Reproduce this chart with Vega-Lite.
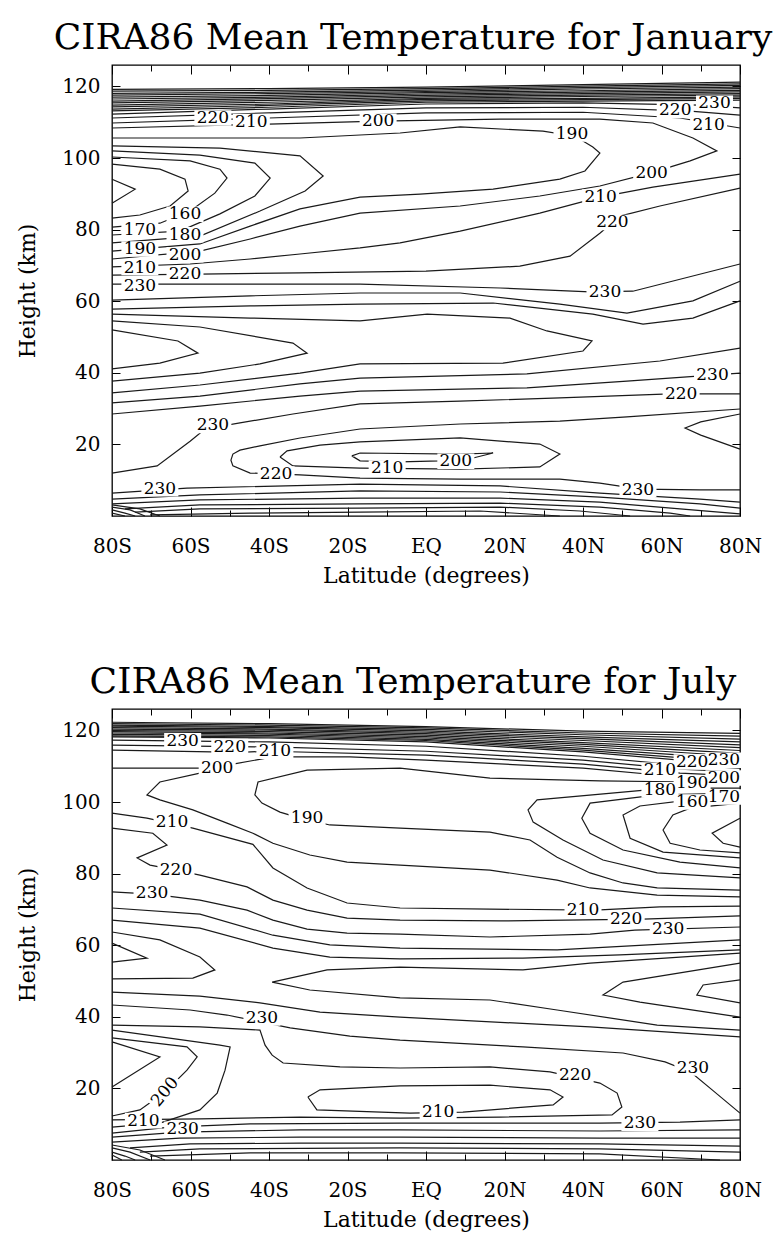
{
"$schema": "https://vega.github.io/schema/vega-lite/v6.json",
"background": "white",
"padding": {"left": 16, "top": 18, "right": 5, "bottom": 5},
"spacing": 75,
"config": {
  "font": "DejaVu Serif",
  "view": {"stroke": "black", "strokeWidth": 1.3},
  "axis": {"labelFont": "DejaVu Serif", "labelFontSize": 20, "labelColor": "black", "titleFont": "DejaVu Serif", "titleFontSize": 22, "titleFontWeight": "normal", "titleColor": "black", "tickColor": "black", "tickWidth": 1, "domain": false, "grid": false},
  "title": {"font": "DejaVu Serif", "fontSize": 36, "fontWeight": "normal", "color": "black", "anchor": "middle", "offset": 8, "dx": -13}
},
"datasets": {
"jan": [
{"c":"t0","lat":-80,"h":113.2},{"c":"t0","lat":-40,"h":114.2},{"c":"t0","lat":0,"h":115.6},{"c":"t0","lat":40,"h":115.9},{"c":"t0","lat":80,"h":116.2},
{"c":"t1","lat":-80,"h":113.7},{"c":"t1","lat":-40,"h":114.7},{"c":"t1","lat":0,"h":116.0},{"c":"t1","lat":40,"h":116.3},{"c":"t1","lat":80,"h":116.7},
{"c":"t2","lat":-80,"h":114.3},{"c":"t2","lat":-40,"h":115.1},{"c":"t2","lat":0,"h":116.4},{"c":"t2","lat":40,"h":116.7},{"c":"t2","lat":80,"h":117.1},
{"c":"t3","lat":-80,"h":114.8},{"c":"t3","lat":-40,"h":115.6},{"c":"t3","lat":0,"h":116.7},{"c":"t3","lat":40,"h":117.2},{"c":"t3","lat":80,"h":117.6},
{"c":"t4","lat":-80,"h":115.4},{"c":"t4","lat":-40,"h":116.1},{"c":"t4","lat":0,"h":117.1},{"c":"t4","lat":40,"h":117.6},{"c":"t4","lat":80,"h":118.0},
{"c":"t5","lat":-80,"h":115.9},{"c":"t5","lat":-40,"h":116.6},{"c":"t5","lat":0,"h":117.5},{"c":"t5","lat":40,"h":118.0},{"c":"t5","lat":80,"h":118.5},
{"c":"t6","lat":-80,"h":116.5},{"c":"t6","lat":-40,"h":117.0},{"c":"t6","lat":0,"h":117.9},{"c":"t6","lat":40,"h":118.4},{"c":"t6","lat":80,"h":118.9},
{"c":"t7","lat":-80,"h":117.0},{"c":"t7","lat":-40,"h":117.5},{"c":"t7","lat":0,"h":118.3},{"c":"t7","lat":40,"h":118.8},{"c":"t7","lat":80,"h":119.4},
{"c":"t8","lat":-80,"h":117.6},{"c":"t8","lat":-40,"h":118.0},{"c":"t8","lat":0,"h":118.6},{"c":"t8","lat":40,"h":119.3},{"c":"t8","lat":80,"h":119.8},
{"c":"t9","lat":-80,"h":118.1},{"c":"t9","lat":-40,"h":118.4},{"c":"t9","lat":0,"h":119.0},{"c":"t9","lat":40,"h":119.7},{"c":"t9","lat":80,"h":120.3},
{"c":"t10","lat":-80,"h":118.7},{"c":"t10","lat":-40,"h":118.9},{"c":"t10","lat":0,"h":119.4},{"c":"t10","lat":40,"h":120.1},{"c":"t10","lat":80,"h":120.7},
{"c":"t11","lat":-80,"h":119.2},{"c":"t11","lat":-40,"h":119.4},{"c":"t11","lat":0,"h":119.8},{"c":"t11","lat":40,"h":120.5},{"c":"t11","lat":80,"h":121.2},
{"c":"a230","lat":-80,"h":112.3},{"c":"a230","lat":-40,"h":113.7},{"c":"a230","lat":0,"h":115.1},{"c":"a230","lat":40,"h":115.4},{"c":"a230","lat":69.8,"h":114.8},{"c":"a230","lat":80,"h":114.0},
{"c":"a220","lat":-80,"h":111.2},{"c":"a220","lat":-40,"h":112.6},{"c":"a220","lat":0,"h":114.0},{"c":"a220","lat":40,"h":114.2},{"c":"a220","lat":67.3,"h":113.1},{"c":"a220","lat":80,"h":112.0},
{"c":"a210","lat":-80,"h":109.8},{"c":"a210","lat":-40,"h":111.2},{"c":"a210","lat":0,"h":112.6},{"c":"a210","lat":40,"h":112.8},{"c":"a210","lat":64.7,"h":111.2},{"c":"a210","lat":80,"h":108.4},
{"c":"a200","lat":-80,"h":108.4},{"c":"a200","lat":-40,"h":109.5},{"c":"a200","lat":-12.2,"h":110.3},{"c":"a200","lat":18.9,"h":110.9},{"c":"a200","lat":44.3,"h":110.9},{"c":"a200","lat":57.8,"h":109.8},{"c":"a200","lat":68.0,"h":105.6},{"c":"a200","lat":74.1,"h":102.0},{"c":"a200","lat":67.3,"h":99.2},{"c":"a200","lat":57.1,"h":95.8},{"c":"a200","lat":44.3,"h":92.2},{"c":"a200","lat":29.0,"h":89.4},{"c":"a200","lat":8.7,"h":86.6},{"c":"a200","lat":-16.8,"h":84.6},{"c":"a200","lat":-32.1,"h":81.0},{"c":"a200","lat":-44.8,"h":77.4},{"c":"a200","lat":-57.6,"h":74.0},{"c":"a200","lat":-80,"h":71.8},
{"c":"a190","lat":-80,"h":105.6},{"c":"a190","lat":-32.1,"h":105.6},{"c":"a190","lat":-6.6,"h":107.0},{"c":"a190","lat":8.7,"h":108.7},{"c":"a190","lat":29.8,"h":107.5},{"c":"a190","lat":38.0,"h":106.1},{"c":"a190","lat":42.5,"h":103.1},{"c":"a190","lat":44.3,"h":101.4},{"c":"a190","lat":40.5,"h":96.4},{"c":"a190","lat":34.1,"h":94.1},{"c":"a190","lat":17.1,"h":91.3},{"c":"a190","lat":-1.5,"h":89.9},{"c":"a190","lat":-16.8,"h":89.1},{"c":"a190","lat":-32.1,"h":85.8},{"c":"a190","lat":-44.8,"h":81.0},{"c":"a190","lat":-57.6,"h":76.0},{"c":"a190","lat":-80,"h":74.0},
{"c":"a180","lat":-80,"h":103.4},{"c":"a180","lat":-52.5,"h":102.8},{"c":"a180","lat":-32.1,"h":100.6},{"c":"a180","lat":-26.2,"h":95.0},{"c":"a180","lat":-30.8,"h":90.8},{"c":"a180","lat":-42.3,"h":85.2},{"c":"a180","lat":-57.6,"h":78.2},{"c":"a180","lat":-80,"h":76.3},
{"c":"a170","lat":-80,"h":102.0},{"c":"a170","lat":-57.6,"h":100.8},{"c":"a170","lat":-43.6,"h":98.6},{"c":"a170","lat":-39.7,"h":94.4},{"c":"a170","lat":-43.6,"h":89.4},{"c":"a170","lat":-52.5,"h":84.4},{"c":"a170","lat":-62.7,"h":79.6},{"c":"a170","lat":-80,"h":78.5},
{"c":"a160","lat":-80,"h":100.3},{"c":"a160","lat":-60.1,"h":99.2},{"c":"a160","lat":-52.5,"h":96.9},{"c":"a160","lat":-50.7,"h":94.4},{"c":"a160","lat":-53.8,"h":90.2},{"c":"a160","lat":-60.1,"h":85.2},{"c":"a160","lat":-67.8,"h":81.8},{"c":"a160","lat":-80,"h":80.7},
{"c":"a150","lat":-80,"h":98.3},{"c":"a150","lat":-67.8,"h":96.9},{"c":"a150","lat":-61.4,"h":94.1},{"c":"a150","lat":-60.6,"h":90.8},{"c":"a150","lat":-65.2,"h":86.6},{"c":"a150","lat":-72.9,"h":84.1},{"c":"a150","lat":-80,"h":83.2},
{"c":"a140","lat":-80,"h":94.1},{"c":"a140","lat":-74.1,"h":91.3},{"c":"a140","lat":-80,"h":87.4},
{"c":"b210","lat":80,"h":95.5},{"c":"b210","lat":57.8,"h":91.9},{"c":"b210","lat":44.3,"h":89.1},{"c":"b210","lat":29.0,"h":84.6},{"c":"b210","lat":8.7,"h":79.6},{"c":"b210","lat":-6.6,"h":76.3},{"c":"b210","lat":-16.8,"h":74.9},{"c":"b210","lat":-32.1,"h":73.2},{"c":"b210","lat":-44.8,"h":71.8},{"c":"b210","lat":-60.1,"h":70.4},{"c":"b210","lat":-80,"h":69.6},
{"c":"b220","lat":80,"h":91.6},{"c":"b220","lat":59.6,"h":86.6},{"c":"b220","lat":49.4,"h":83.8},{"c":"b220","lat":44.3,"h":79.0},{"c":"b220","lat":36.7,"h":72.6},{"c":"b220","lat":23.9,"h":69.8},{"c":"b220","lat":0,"h":68.4},{"c":"b220","lat":-32.1,"h":67.9},{"c":"b220","lat":-57.6,"h":67.6},{"c":"b220","lat":-80,"h":67.3},
{"c":"b230","lat":-80,"h":64.8},{"c":"b230","lat":-16.8,"h":64.8},{"c":"b230","lat":18.9,"h":63.7},{"c":"b230","lat":41.8,"h":62.6},{"c":"b230","lat":52.7,"h":62.8},{"c":"b230","lat":80,"h":70.4},
{"c":"b240","lat":-80,"h":60.3},{"c":"b240","lat":-44.8,"h":61.5},{"c":"b240","lat":-16.8,"h":62.3},{"c":"b240","lat":8.7,"h":62.3},{"c":"b240","lat":34.1,"h":59.2},{"c":"b240","lat":51.2,"h":56.7},{"c":"b240","lat":68.0,"h":60.1},{"c":"b240","lat":80,"h":65.6},
{"c":"b250","lat":-80,"h":57.8},{"c":"b250","lat":-44.8,"h":58.7},{"c":"b250","lat":-16.8,"h":59.2},{"c":"b250","lat":17.1,"h":59.5},{"c":"b250","lat":42.5,"h":56.4},{"c":"b250","lat":55.3,"h":53.6},{"c":"b250","lat":68.0,"h":55.3},{"c":"b250","lat":80,"h":60.1},
{"c":"s3","lat":-80,"h":56.4},{"c":"s3","lat":-44.8,"h":55.3},{"c":"s3","lat":-16.8,"h":54.5},{"c":"s3","lat":0.3,"h":56.4},{"c":"s3","lat":21.4,"h":55.3},{"c":"s3","lat":30.8,"h":51.7},{"c":"s3","lat":42.3,"h":48.9},{"c":"s3","lat":40.0,"h":46.1},{"c":"s3","lat":19.6,"h":42.7},{"c":"s3","lat":-16.8,"h":42.5},{"c":"s3","lat":-32.1,"h":39.9},{"c":"s3","lat":-57.6,"h":36.6},{"c":"s3","lat":-80,"h":34.4},
{"c":"s2","lat":-80,"h":54.5},{"c":"s2","lat":-57.6,"h":52.8},{"c":"s2","lat":-33.9,"h":48.3},{"c":"s2","lat":-30.3,"h":45.5},{"c":"s2","lat":-42.3,"h":42.5},{"c":"s2","lat":-57.6,"h":39.9},{"c":"s2","lat":-80,"h":37.7},
{"c":"s1","lat":-80,"h":52.0},{"c":"s1","lat":-63.2,"h":48.9},{"c":"s1","lat":-58.1,"h":45.5},{"c":"s1","lat":-67.8,"h":42.7},{"c":"s1","lat":-80,"h":41.1},
{"c":"c250","lat":-80,"h":31.6},{"c":"c250","lat":-57.6,"h":33.5},{"c":"c250","lat":-32.1,"h":36.9},{"c":"c250","lat":-16.8,"h":38.5},{"c":"c250","lat":25.7,"h":39.7},{"c":"c250","lat":59.6,"h":43.3},{"c":"c250","lat":80,"h":46.9},
{"c":"c240","lat":-80,"h":28.5},{"c":"c240","lat":-57.6,"h":30.7},{"c":"c240","lat":-32.1,"h":33.5},{"c":"c240","lat":-16.8,"h":34.9},{"c":"c240","lat":25.7,"h":35.8},{"c":"c240","lat":51.2,"h":37.7},{"c":"c240","lat":80,"h":39.9},
{"c":"c230","lat":-80,"h":12.0},{"c":"c230","lat":-68.5,"h":14.0},{"c":"c230","lat":-60.1,"h":20.9},{"c":"c230","lat":-56.3,"h":24.3},{"c":"c230","lat":-47.4,"h":26.0},{"c":"c230","lat":-33.9,"h":28.5},{"c":"c230","lat":-16.8,"h":31.3},{"c":"c230","lat":8.7,"h":32.1},{"c":"c230","lat":34.1,"h":33.0},{"c":"c230","lat":62.2,"h":34.1},{"c":"c230","lat":80,"h":34.1},
{"c":"c220","lat":80,"h":29.9},{"c":"c220","lat":51.2,"h":27.7},{"c":"c220","lat":34.1,"h":26.5},{"c":"c220","lat":8.7,"h":25.7},{"c":"c220","lat":-16.8,"h":24.3},{"c":"c220","lat":-32.1,"h":21.8},{"c":"c220","lat":-42.3,"h":19.6},{"c":"c220","lat":-47.4,"h":18.4},{"c":"c220","lat":-49.2,"h":17.3},{"c":"c220","lat":-49.7,"h":15.6},{"c":"c220","lat":-49.2,"h":14.0},{"c":"c220","lat":-44.8,"h":12.0},{"c":"c220","lat":-32.1,"h":11.5},{"c":"c220","lat":-16.8,"h":10.6},{"c":"c220","lat":8.7,"h":10.3},{"c":"c220","lat":34.1,"h":10.3},{"c":"c220","lat":44.3,"h":9.2},{"c":"c220","lat":54.5,"h":7.5},{"c":"c220","lat":69.8,"h":7.3},{"c":"c220","lat":80,"h":7.3},
{"c":"e210","lat":-37.2,"h":16.5},{"c":"e210","lat":-35.4,"h":18.2},{"c":"e210","lat":-27.0,"h":19.8},{"c":"e210","lat":-16.8,"h":20.7},{"c":"e210","lat":8.7,"h":21.8},{"c":"e210","lat":29.0,"h":20.1},{"c":"e210","lat":34.1,"h":17.3},{"c":"e210","lat":29.0,"h":13.7},{"c":"e210","lat":8.7,"h":13.1},{"c":"e210","lat":-16.8,"h":13.4},{"c":"e210","lat":-33.9,"h":14.0},{"c":"e210","lat":-37.2,"h":16.5},
{"c":"e200","lat":-18.9,"h":16.8},{"c":"e200","lat":-16.8,"h":17.6},{"c":"e200","lat":8.7,"h":17.3},{"c":"e200","lat":17.1,"h":17.6},{"c":"e200","lat":12.0,"h":16.2},{"c":"e200","lat":3.6,"h":15.4},{"c":"e200","lat":-6.6,"h":15.1},{"c":"e200","lat":-16.8,"h":15.4},{"c":"e200","lat":-18.9,"h":16.8},
{"c":"r210","lat":80,"h":28.5},{"c":"r210","lat":70,"h":26.3},{"c":"r210","lat":66.0,"h":24.6},{"c":"r210","lat":70,"h":22.6},{"c":"r210","lat":80,"h":18.7},
{"c":"g230","lat":-80,"h":6.4},{"c":"g230","lat":-60.9,"h":7.8},{"c":"g230","lat":-16.8,"h":8.9},{"c":"g230","lat":18.9,"h":8.4},{"c":"g230","lat":44.3,"h":6.4},{"c":"g230","lat":69.8,"h":4.7},{"c":"g230","lat":80,"h":3.9},
{"c":"g240","lat":-80,"h":4.7},{"c":"g240","lat":-57.6,"h":5.9},{"c":"g240","lat":-16.8,"h":7.0},{"c":"g240","lat":18.9,"h":6.7},{"c":"g240","lat":44.3,"h":5.3},{"c":"g240","lat":69.8,"h":3.4},{"c":"g240","lat":80,"h":2.2},
{"c":"g250","lat":-80,"h":3.4},{"c":"g250","lat":-57.6,"h":4.5},{"c":"g250","lat":-16.8,"h":5.0},{"c":"g250","lat":18.9,"h":5.0},{"c":"g250","lat":44.3,"h":3.9},{"c":"g250","lat":64.7,"h":2.0},{"c":"g250","lat":80,"h":0.6},
{"c":"g260","lat":-76.7,"h":2.0},{"c":"g260","lat":-57.6,"h":3.1},{"c":"g260","lat":-16.8,"h":3.4},{"c":"g260","lat":18.9,"h":3.6},{"c":"g260","lat":44.3,"h":2.5},{"c":"g260","lat":62.2,"h":0.8},{"c":"g260","lat":67.3,"h":0},
{"c":"g270","lat":-74.1,"h":1.1},{"c":"g270","lat":-57.6,"h":2.0},{"c":"g270","lat":-16.8,"h":2.2},{"c":"g270","lat":18.9,"h":2.5},{"c":"g270","lat":39.2,"h":1.4},{"c":"g270","lat":52.0,"h":0},
{"c":"g280","lat":-70.3,"h":0.3},{"c":"g280","lat":-44.8,"h":0.8},{"c":"g280","lat":-16.8,"h":1.1},{"c":"g280","lat":13.8,"h":1.4},{"c":"g280","lat":34.1,"h":0},
{"c":"k1","lat":-80,"h":2.5},{"c":"k1","lat":-75.4,"h":1.7},{"c":"k1","lat":-71.6,"h":0},
{"c":"k2","lat":-80,"h":1.7},{"c":"k2","lat":-76.7,"h":0.8},{"c":"k2","lat":-74.1,"h":0},
{"c":"k3","lat":-80,"h":0.8},{"c":"k3","lat":-76.7,"h":0},
{"c":"k4","lat":-80,"h":3.1},{"c":"k4","lat":-72.9,"h":2.0},{"c":"k4","lat":-67.8,"h":0}
],
"janLab": [
{"lat":-54.3,"h":111.2,"t":"220"},{"lat":-44.5,"h":110.2,"t":"210"},{"lat":-12.2,"h":110.3,"t":"200"},{"lat":37.2,"h":106.7,"t":"190"},
{"lat":73.5,"h":115.3,"t":"230"},{"lat":63.5,"h":113.3,"t":"220"},{"lat":72.0,"h":109.3,"t":"210"},
{"lat":57.5,"h":95.9,"t":"200"},{"lat":44.5,"h":89.1,"t":"210"},{"lat":47.5,"h":82.0,"t":"220"},
{"lat":-61.4,"h":84.3,"t":"160"},{"lat":-72.9,"h":80.0,"t":"170"},{"lat":-61.4,"h":78.6,"t":"180"},{"lat":-72.9,"h":74.6,"t":"190"},{"lat":-61.4,"h":73.0,"t":"200"},{"lat":-72.9,"h":69.4,"t":"210"},{"lat":-61.4,"h":67.6,"t":"220"},{"lat":-72.9,"h":64.2,"t":"230"},
{"lat":45.6,"h":62.5,"t":"230"},{"lat":-54.3,"h":25.3,"t":"230"},{"lat":73,"h":39.3,"t":"230"},{"lat":65,"h":34.1,"t":"220"},
{"lat":-38.2,"h":11.7,"t":"220"},{"lat":-9.9,"h":13.4,"t":"210"},{"lat":7.6,"h":15.3,"t":"200"},{"lat":-67.8,"h":7.6,"t":"230"},{"lat":54.0,"h":7.4,"t":"230"}
],
"jul": [
{"c":"t0","lat":-80,"h":118.2},{"c":"t0","lat":-40,"h":117.9},{"c":"t0","lat":0,"h":116.8},{"c":"t0","lat":40,"h":114.0},{"c":"t0","lat":80,"h":110.3},
{"c":"t1","lat":-80,"h":118.5},{"c":"t1","lat":-40,"h":118.2},{"c":"t1","lat":0,"h":117.2},{"c":"t1","lat":40,"h":114.5},{"c":"t1","lat":80,"h":111.1},
{"c":"t2","lat":-80,"h":118.9},{"c":"t2","lat":-40,"h":118.6},{"c":"t2","lat":0,"h":117.5},{"c":"t2","lat":40,"h":115.0},{"c":"t2","lat":80,"h":112.0},
{"c":"t3","lat":-80,"h":119.3},{"c":"t3","lat":-40,"h":119.0},{"c":"t3","lat":0,"h":117.9},{"c":"t3","lat":40,"h":115.6},{"c":"t3","lat":80,"h":112.8},
{"c":"t4","lat":-80,"h":119.7},{"c":"t4","lat":-40,"h":119.3},{"c":"t4","lat":0,"h":118.3},{"c":"t4","lat":40,"h":116.1},{"c":"t4","lat":80,"h":113.6},
{"c":"t5","lat":-80,"h":120.0},{"c":"t5","lat":-40,"h":119.7},{"c":"t5","lat":0,"h":118.7},{"c":"t5","lat":40,"h":116.6},{"c":"t5","lat":80,"h":114.4},
{"c":"t6","lat":-80,"h":120.4},{"c":"t6","lat":-40,"h":120.1},{"c":"t6","lat":0,"h":119.1},{"c":"t6","lat":40,"h":117.2},{"c":"t6","lat":80,"h":115.2},
{"c":"t7","lat":-80,"h":120.8},{"c":"t7","lat":-40,"h":120.4},{"c":"t7","lat":0,"h":119.5},{"c":"t7","lat":40,"h":117.7},{"c":"t7","lat":80,"h":116.0},
{"c":"t8","lat":-80,"h":121.2},{"c":"t8","lat":-40,"h":120.8},{"c":"t8","lat":0,"h":119.9},{"c":"t8","lat":40,"h":118.2},{"c":"t8","lat":80,"h":116.8},
{"c":"t9","lat":-80,"h":121.5},{"c":"t9","lat":-40,"h":121.1},{"c":"t9","lat":0,"h":120.3},{"c":"t9","lat":40,"h":118.8},{"c":"t9","lat":80,"h":117.6},
{"c":"t10","lat":-80,"h":121.9},{"c":"t10","lat":-40,"h":121.5},{"c":"t10","lat":0,"h":120.7},{"c":"t10","lat":40,"h":119.3},{"c":"t10","lat":80,"h":118.4},
{"c":"t11","lat":-80,"h":122.3},{"c":"t11","lat":-40,"h":121.9},{"c":"t11","lat":0,"h":121.1},{"c":"t11","lat":40,"h":119.8},{"c":"t11","lat":80,"h":119.2},
{"c":"k230","lat":-80,"h":117.3},{"c":"k230","lat":-40,"h":116.8},{"c":"k230","lat":0,"h":115.6},{"c":"k230","lat":40,"h":112.8},{"c":"k230","lat":64.7,"h":110.3},{"c":"k230","lat":80,"h":109.5},
{"c":"k220","lat":-80,"h":115.9},{"c":"k220","lat":-40,"h":115.4},{"c":"k220","lat":0,"h":114.2},{"c":"k220","lat":40,"h":111.7},{"c":"k220","lat":64.7,"h":109.2},{"c":"k220","lat":80,"h":108.4},
{"c":"k210","lat":-80,"h":114.5},{"c":"k210","lat":-47.4,"h":113.9},{"c":"k210","lat":-40,"h":114.2},{"c":"k210","lat":0,"h":113.1},{"c":"k210","lat":40,"h":110.6},{"c":"k210","lat":64.7,"h":108.1},{"c":"k210","lat":80,"h":107.3},
{"c":"k200","lat":-80,"h":109.5},{"c":"k200","lat":-57.6,"h":109.5},{"c":"k200","lat":-49.2,"h":110.6},{"c":"k200","lat":-39.0,"h":112.6},{"c":"k200","lat":-19.4,"h":112.6},{"c":"k200","lat":0,"h":111.7},{"c":"k200","lat":40,"h":109.5},{"c":"k200","lat":64.7,"h":107.0},{"c":"k200","lat":80,"h":106.1},
{"c":"k190","lat":80,"h":105.0},{"c":"k190","lat":67.3,"h":105.6},{"c":"k190","lat":44.3,"h":105.9},{"c":"k190","lat":16.3,"h":106.7},{"c":"k190","lat":-6.6,"h":109.5},{"c":"k190","lat":-30.3,"h":108.9},{"c":"k190","lat":-42.8,"h":105.6},{"c":"k190","lat":-43.6,"h":102.0},{"c":"k190","lat":-41.8,"h":99.7},{"c":"k190","lat":-37.2,"h":97.2},{"c":"k190","lat":-32.1,"h":95.5},{"c":"k190","lat":-24.5,"h":93.6},{"c":"k190","lat":-6.6,"h":92.7},{"c":"k190","lat":16.3,"h":91.6},{"c":"k190","lat":26.5,"h":89.4},{"c":"k190","lat":33.4,"h":84.6},{"c":"k190","lat":41.8,"h":80.2},{"c":"k190","lat":50.2,"h":77.4},{"c":"k190","lat":58.9,"h":76.0},{"c":"k190","lat":80,"h":75.4},
{"c":"n5","lat":80,"h":103.9},{"c":"n5","lat":61.4,"h":103.9},{"c":"n5","lat":28.3,"h":100.6},{"c":"n5","lat":26.0,"h":97.8},{"c":"n5","lat":27.3,"h":94.4},{"c":"n5","lat":34.9,"h":89.4},{"c":"n5","lat":45.1,"h":83.8},{"c":"n5","lat":58.9,"h":80.2},{"c":"n5","lat":80,"h":78.8},
{"c":"n4","lat":80,"h":102.5},{"c":"n4","lat":58.9,"h":102.0},{"c":"n4","lat":41.8,"h":99.7},{"c":"n4","lat":39.7,"h":95.5},{"c":"n4","lat":41.8,"h":91.3},{"c":"n4","lat":50.2,"h":86.6},{"c":"n4","lat":64.7,"h":83.2},{"c":"n4","lat":80,"h":81.6},
{"c":"n3","lat":80,"h":101.4},{"c":"n3","lat":67.3,"h":100.6},{"c":"n3","lat":54.5,"h":98.9},{"c":"n3","lat":50.2,"h":96.4},{"c":"n3","lat":52.0,"h":89.9},{"c":"n3","lat":60.4,"h":86.0},{"c":"n3","lat":80,"h":84.4},
{"c":"n2","lat":80,"h":99.7},{"c":"n2","lat":67.3,"h":98.3},{"c":"n2","lat":62.9,"h":96.4},{"c":"n2","lat":60.4,"h":92.2},{"c":"n2","lat":62.2,"h":88.5},{"c":"n2","lat":69.8,"h":86.6},{"c":"n2","lat":80,"h":85.8},
{"c":"n1","lat":80,"h":95.5},{"c":"n1","lat":72.9,"h":91.3},{"c":"n1","lat":75.7,"h":88.5},{"c":"n1","lat":80,"h":87.4},
{"c":"a200","lat":-49.9,"h":110.1},{"c":"a200","lat":-57.6,"h":108.1},{"c":"a200","lat":-67.8,"h":105.6},{"c":"a200","lat":-71.1,"h":102.0},{"c":"a200","lat":-67.8,"h":100.6},{"c":"a200","lat":-59.4,"h":97.8},{"c":"a200","lat":-50.7,"h":94.1},{"c":"a200","lat":-44.1,"h":91.3},{"c":"a200","lat":-39.0,"h":88.5},{"c":"a200","lat":-29.6,"h":85.2},{"c":"a200","lat":-20.1,"h":83.2},{"c":"a200","lat":-6.6,"h":82.4},{"c":"a200","lat":16.3,"h":81.0},{"c":"a200","lat":33.4,"h":78.2},{"c":"a200","lat":41.8,"h":76.0},{"c":"a200","lat":58.9,"h":74.0},{"c":"a200","lat":80,"h":73.5},
{"c":"b210","lat":-80,"h":96.9},{"c":"b210","lat":-71.1,"h":95.5},{"c":"b210","lat":-59.4,"h":92.7},{"c":"b210","lat":-44.1,"h":88.2},{"c":"b210","lat":-39.0,"h":81.6},{"c":"b210","lat":-30.3,"h":76.0},{"c":"b210","lat":-20.1,"h":71.8},{"c":"b210","lat":-6.6,"h":70.4},{"c":"b210","lat":16.3,"h":70.1},{"c":"b210","lat":43.1,"h":69.8},{"c":"b210","lat":59.6,"h":70.7},{"c":"b210","lat":80,"h":70.9},
{"c":"b220","lat":-80,"h":92.7},{"c":"b220","lat":-69.6,"h":91.3},{"c":"b220","lat":-66.0,"h":88.0},{"c":"b220","lat":-73.6,"h":84.4},{"c":"b220","lat":-70.3,"h":82.4},{"c":"b220","lat":-63.7,"h":81.0},{"c":"b220","lat":-57.6,"h":79.6},{"c":"b220","lat":-45.6,"h":76.3},{"c":"b220","lat":-39.0,"h":72.6},{"c":"b220","lat":-30.3,"h":69.8},{"c":"b220","lat":-20.1,"h":67.6},{"c":"b220","lat":-6.6,"h":67.0},{"c":"b220","lat":18.9,"h":66.8},{"c":"b220","lat":55.3,"h":67.3},{"c":"b220","lat":80,"h":68.2},
{"c":"b230","lat":-80,"h":74.9},{"c":"b230","lat":-69.8,"h":74.3},{"c":"b230","lat":-57.6,"h":72.6},{"c":"b230","lat":-45.6,"h":69.8},{"c":"b230","lat":-39.0,"h":67.0},{"c":"b230","lat":-30.3,"h":64.5},{"c":"b230","lat":-20.1,"h":63.4},{"c":"b230","lat":-6.6,"h":63.1},{"c":"b230","lat":16.3,"h":62.3},{"c":"b230","lat":41.8,"h":63.1},{"c":"b230","lat":53.2,"h":64.2},{"c":"b230","lat":80,"h":65.1},
{"c":"l240","lat":-80,"h":70.4},{"c":"l240","lat":-57.6,"h":68.7},{"c":"l240","lat":-39.0,"h":62.8},{"c":"l240","lat":-24.5,"h":60.1},{"c":"l240","lat":-6.6,"h":59.2},{"c":"l240","lat":33.4,"h":58.7},{"c":"l240","lat":80,"h":61.5},
{"c":"l250","lat":-80,"h":67.0},{"c":"l250","lat":-57.6,"h":64.8},{"c":"l250","lat":-39.0,"h":59.2},{"c":"l250","lat":-24.5,"h":56.7},{"c":"l250","lat":-6.6,"h":56.2},{"c":"l250","lat":24.7,"h":56.4},{"c":"l250","lat":49.4,"h":57.3},{"c":"l250","lat":80,"h":58.7},
{"c":"g1","lat":80,"h":57.8},{"c":"g1","lat":41.8,"h":55.0},{"c":"g1","lat":24.7,"h":53.1},{"c":"g1","lat":-6.6,"h":53.9},{"c":"g1","lat":-25.2,"h":53.1},{"c":"g1","lat":-39.2,"h":49.7},{"c":"g1","lat":-29.6,"h":47.5},{"c":"g1","lat":-6.6,"h":45.3},{"c":"g1","lat":16.3,"h":44.7},{"c":"g1","lat":33.4,"h":41.9},{"c":"g1","lat":58.9,"h":37.7},{"c":"g1","lat":80,"h":36.3},
{"c":"r1","lat":80,"h":55.0},{"c":"r1","lat":50.2,"h":49.7},{"c":"r1","lat":45.1,"h":46.1},{"c":"r1","lat":54.5,"h":44.1},{"c":"r1","lat":80,"h":39.9},
{"c":"r2","lat":80,"h":50.3},{"c":"r2","lat":70.6,"h":48.9},{"c":"r2","lat":69.0,"h":46.1},{"c":"r2","lat":80,"h":43.9},
{"c":"w2","lat":-80,"h":63.7},{"c":"w2","lat":-67.8,"h":61.5},{"c":"w2","lat":-57.6,"h":56.7},{"c":"w2","lat":-53.8,"h":53.1},{"c":"w2","lat":-59.4,"h":50.8},{"c":"w2","lat":-80,"h":50.6},
{"c":"w1","lat":-80,"h":60.6},{"c":"w1","lat":-71.1,"h":56.4},{"c":"w1","lat":-80,"h":55.3},
{"c":"m1","lat":-80,"h":46.9},{"c":"m1","lat":-57.6,"h":45.8},{"c":"m1","lat":-42.3,"h":43.9},{"c":"m1","lat":-27.0,"h":41.3},{"c":"m1","lat":-6.6,"h":39.9},{"c":"m1","lat":41.8,"h":37.2},{"c":"m1","lat":80,"h":34.4},
{"c":"m230","lat":-80,"h":43.3},{"c":"m230","lat":-60.1,"h":41.9},{"c":"m230","lat":-50.7,"h":40.5},{"c":"m230","lat":-34.6,"h":36.9},{"c":"m230","lat":-19.4,"h":34.6},{"c":"m230","lat":-6.6,"h":33.5},{"c":"m230","lat":24.7,"h":31.6},{"c":"m230","lat":50.2,"h":29.9},{"c":"m230","lat":60.9,"h":27.4},{"c":"m230","lat":67.5,"h":24.5},{"c":"m230","lat":72.9,"h":19.6},{"c":"m230","lat":80,"h":13.1},
{"c":"m220","lat":-80,"h":37.7},{"c":"m220","lat":-57.6,"h":37.2},{"c":"m220","lat":-42.3,"h":36.3},{"c":"m220","lat":-41.0,"h":32.1},{"c":"m220","lat":-39.2,"h":29.3},{"c":"m220","lat":-36.4,"h":27.1},{"c":"m220","lat":-21.9,"h":26.0},{"c":"m220","lat":-6.6,"h":25.7},{"c":"m220","lat":16.3,"h":26.0},{"c":"m220","lat":31.6,"h":24.6},{"c":"m220","lat":44.3,"h":21.5},{"c":"m220","lat":48.7,"h":18.7},{"c":"m220","lat":49.9,"h":14.8},{"c":"m220","lat":47.4,"h":12.6},{"c":"m220","lat":18.9,"h":12.0},{"c":"m220","lat":-6.6,"h":11.7},{"c":"m220","lat":-32.1,"h":12.0},{"c":"m220","lat":-57.6,"h":11.5},{"c":"m220","lat":-80,"h":11.2},
{"c":"p190","lat":-80,"h":33.0},{"c":"p190","lat":-67.8,"h":28.8},{"c":"p190","lat":-80,"h":20.4},
{"c":"p200","lat":-80,"h":34.1},{"c":"p200","lat":-60.9,"h":31.6},{"c":"p200","lat":-58.3,"h":28.8},{"c":"p200","lat":-60.9,"h":25.1},{"c":"p200","lat":-66.5,"h":19.0},{"c":"p200","lat":-72.9,"h":14.0},{"c":"p200","lat":-80,"h":12.3},
{"c":"p210","lat":-80,"h":36.3},{"c":"p210","lat":-52.5,"h":32.1},{"c":"p210","lat":-49.9,"h":31.6},{"c":"p210","lat":-51.2,"h":25.1},{"c":"p210","lat":-53.2,"h":18.7},{"c":"p210","lat":-57.6,"h":14.0},{"c":"p210","lat":-67.8,"h":10.3},{"c":"p210","lat":-80,"h":9.2},
{"c":"e210","lat":-30.1,"h":17.6},{"c":"e210","lat":-27.0,"h":19.6},{"c":"e210","lat":-6.6,"h":20.7},{"c":"e210","lat":16.3,"h":20.9},{"c":"e210","lat":31.6,"h":19.6},{"c":"e210","lat":34.9,"h":17.6},{"c":"e210","lat":32.4,"h":15.4},{"c":"e210","lat":9.4,"h":13.4},{"c":"e210","lat":-4.1,"h":13.1},{"c":"e210","lat":-27.8,"h":14.0},{"c":"e210","lat":-30.1,"h":17.6},
{"c":"q230","lat":-80,"h":7.5},{"c":"q230","lat":-65.2,"h":9.2},{"c":"q230","lat":-44.8,"h":10.1},{"c":"q230","lat":-6.6,"h":10.3},{"c":"q230","lat":44.3,"h":10.3},{"c":"q230","lat":64.7,"h":10.6},{"c":"q230","lat":80,"h":11.2},
{"c":"q240","lat":-80,"h":6.4},{"c":"q240","lat":-62.7,"h":7.8},{"c":"q240","lat":-32.1,"h":8.4},{"c":"q240","lat":-6.6,"h":8.4},{"c":"q240","lat":44.3,"h":8.1},{"c":"q240","lat":80,"h":8.4},
{"c":"q250","lat":-80,"h":5.0},{"c":"q250","lat":-62.7,"h":6.1},{"c":"q250","lat":-32.1,"h":6.4},{"c":"q250","lat":-6.6,"h":6.4},{"c":"q250","lat":44.3,"h":6.1},{"c":"q250","lat":80,"h":6.1},
{"c":"q260","lat":-75.4,"h":3.4},{"c":"q260","lat":-60.1,"h":4.5},{"c":"q260","lat":-32.1,"h":4.7},{"c":"q260","lat":-6.6,"h":4.7},{"c":"q260","lat":44.3,"h":4.5},{"c":"q260","lat":80,"h":3.9},
{"c":"q270","lat":-72.9,"h":2.2},{"c":"q270","lat":-57.6,"h":3.1},{"c":"q270","lat":-6.6,"h":3.4},{"c":"q270","lat":44.3,"h":3.1},{"c":"q270","lat":80,"h":2.2},
{"c":"q280","lat":-70.3,"h":1.1},{"c":"q280","lat":-44.8,"h":2.0},{"c":"q280","lat":-6.6,"h":2.0},{"c":"q280","lat":44.3,"h":1.7},{"c":"q280","lat":74.9,"h":0},
{"c":"z1","lat":-80,"h":3.4},{"c":"z1","lat":-75.4,"h":2.2},{"c":"z1","lat":-70.3,"h":0},
{"c":"z2","lat":-80,"h":2.2},{"c":"z2","lat":-76.7,"h":1.1},{"c":"z2","lat":-74.1,"h":0},
{"c":"z3","lat":-80,"h":1.4},{"c":"z3","lat":-77.5,"h":0},
{"c":"z4","lat":-80,"h":4.2},{"c":"z4","lat":-72.9,"h":2.8},{"c":"z4","lat":-66.5,"h":0}
],
"julLab": [
{"lat":-62,"h":117.1,"t":"230"},{"lat":-50,"h":115.5,"t":"220"},{"lat":-38.5,"h":114.2,"t":"210"},{"lat":-53.2,"h":109.5,"t":"200"},
{"lat":-30.3,"h":95.5,"t":"190"},{"lat":-64.7,"h":94.4,"t":"210"},{"lat":-63.7,"h":81.0,"t":"220"},{"lat":-69.8,"h":74.6,"t":"230"},
{"lat":75.9,"h":111.7,"t":"230"},{"lat":67.8,"h":111.2,"t":"220"},{"lat":59.6,"h":108.9,"t":"210"},{"lat":75.9,"h":106.7,"t":"200"},{"lat":67.8,"h":105.4,"t":"190"},{"lat":59.6,"h":103.4,"t":"180"},{"lat":75.9,"h":101.4,"t":"170"},{"lat":67.8,"h":100.0,"t":"160"},
{"lat":40,"h":69.9,"t":"210"},{"lat":51,"h":67.2,"t":"220"},{"lat":61.7,"h":64.6,"t":"230"},
{"lat":-41.8,"h":39.7,"t":"230"},{"lat":38.0,"h":23.7,"t":"220"},{"lat":68.0,"h":25.7,"t":"230"},{"lat":3.1,"h":13.4,"t":"210"},{"lat":54.5,"h":10.3,"t":"230"},
{"lat":-72,"h":11.0,"t":"210"},{"lat":-62,"h":8.6,"t":"230"}
],
"julRot": [
{"lat":-66.5,"h":19.0,"t":"200"}
]
},
"vconcat": [
{
"title": {"text": "CIRA86 Mean Temperature for January"},
"width": 628, "height": 451,
"layer": [
{"data": {"name": "jan"}, "mark": {"type": "line", "color": "#1a1a1a", "strokeWidth": 1.2},
 "encoding": {
  "x": {"field": "lat", "type": "quantitative", "scale": {"domain": [-80, 80], "nice": false, "zero": false},
        "axis": {"orient": "bottom", "values": [-80,-70,-60,-50,-40,-30,-20,-10,0,10,20,30,40,50,60,70,80], "labelExpr": "datum.value % 20 !== 0 ? '' : datum.value < 0 ? (-datum.value) + 'S' : datum.value > 0 ? datum.value + 'N' : 'EQ'", "title": "Latitude (degrees)", "titlePadding": 6, "tickSize": {"condition": {"test": "datum.value % 20 === 0", "value": -9}, "value": -6}, "labelPadding": 29, "labelFlush": false, "labelOverlap": false}},
  "y": {"field": "h", "type": "quantitative", "scale": {"domain": [0, 126], "nice": false, "zero": false},
        "axis": {"orient": "left", "values": [20,40,60,80,100,120], "title": "Height (km)", "titlePadding": 22, "tickSize": -8, "labelPadding": 20}},
  "detail": {"field": "c"},
  "order": {"value": null}
 }},
{"data": {"name": "janLab"}, "mark": {"type": "point", "shape": "M-1,-0.42H1V0.42H-1Z", "size": 1369, "filled": true, "color": "white", "opacity": 1},
 "encoding": {
  "x": {"field": "lat", "type": "quantitative", "axis": {"orient": "top", "values": [-80,-70,-60,-50,-40,-30,-20,-10,0,10,20,30,40,50,60,70,80], "labels": false, "title": null, "tickSize": {"condition": {"test": "datum.value % 20 === 0", "value": -9}, "value": -6}}},
  "y": {"field": "h", "type": "quantitative", "axis": {"orient": "right", "values": [20,40,60,80,100,120], "labels": false, "title": null, "tickSize": -8}}
 }},
{"data": {"name": "janLab"}, "mark": {"type": "text", "fontSize": 17, "font": "DejaVu Serif", "fill": "black"},
 "encoding": {
  "x": {"field": "lat", "type": "quantitative", "axis": null},
  "y": {"field": "h", "type": "quantitative", "axis": null},
  "text": {"field": "t"}
 }}
],
"resolve": {"axis": {"x": "independent", "y": "independent"}}
},
{
"title": {"text": "CIRA86 Mean Temperature for July"},
"width": 628, "height": 451,
"layer": [
{"data": {"name": "jul"}, "mark": {"type": "line", "color": "#1a1a1a", "strokeWidth": 1.2},
 "encoding": {
  "x": {"field": "lat", "type": "quantitative", "scale": {"domain": [-80, 80], "nice": false, "zero": false},
        "axis": {"orient": "bottom", "values": [-80,-70,-60,-50,-40,-30,-20,-10,0,10,20,30,40,50,60,70,80], "labelExpr": "datum.value % 20 !== 0 ? '' : datum.value < 0 ? (-datum.value) + 'S' : datum.value > 0 ? datum.value + 'N' : 'EQ'", "title": "Latitude (degrees)", "titlePadding": 6, "tickSize": {"condition": {"test": "datum.value % 20 === 0", "value": -9}, "value": -6}, "labelPadding": 29, "labelFlush": false, "labelOverlap": false}},
  "y": {"field": "h", "type": "quantitative", "scale": {"domain": [0, 126], "nice": false, "zero": false},
        "axis": {"orient": "left", "values": [20,40,60,80,100,120], "title": "Height (km)", "titlePadding": 22, "tickSize": -8, "labelPadding": 20}},
  "detail": {"field": "c"},
  "order": {"value": null}
 }},
{"data": {"name": "julLab"}, "mark": {"type": "point", "shape": "M-1,-0.42H1V0.42H-1Z", "size": 1369, "filled": true, "color": "white", "opacity": 1},
 "encoding": {
  "x": {"field": "lat", "type": "quantitative", "axis": {"orient": "top", "values": [-80,-70,-60,-50,-40,-30,-20,-10,0,10,20,30,40,50,60,70,80], "labels": false, "title": null, "tickSize": {"condition": {"test": "datum.value % 20 === 0", "value": -9}, "value": -6}}},
  "y": {"field": "h", "type": "quantitative", "axis": {"orient": "right", "values": [20,40,60,80,100,120], "labels": false, "title": null, "tickSize": -8}}
 }},
{"data": {"name": "julLab"}, "mark": {"type": "text", "fontSize": 17, "font": "DejaVu Serif", "fill": "black"},
 "encoding": {
  "x": {"field": "lat", "type": "quantitative", "axis": null},
  "y": {"field": "h", "type": "quantitative", "axis": null},
  "text": {"field": "t"}
 }},
{"data": {"name": "julRot"}, "mark": {"type": "point", "shape": "M-1,-0.42H1V0.42H-1Z", "size": 1369, "filled": true, "color": "white", "opacity": 1, "angle": 310},
 "encoding": {
  "x": {"field": "lat", "type": "quantitative", "axis": null},
  "y": {"field": "h", "type": "quantitative", "axis": null}
 }},
{"data": {"name": "julRot"}, "mark": {"type": "text", "fontSize": 17, "font": "DejaVu Serif", "angle": 310, "fill": "black"},
 "encoding": {
  "x": {"field": "lat", "type": "quantitative", "axis": null},
  "y": {"field": "h", "type": "quantitative", "axis": null},
  "text": {"field": "t"}
 }}
],
"resolve": {"axis": {"x": "independent", "y": "independent"}}
}
]
}
